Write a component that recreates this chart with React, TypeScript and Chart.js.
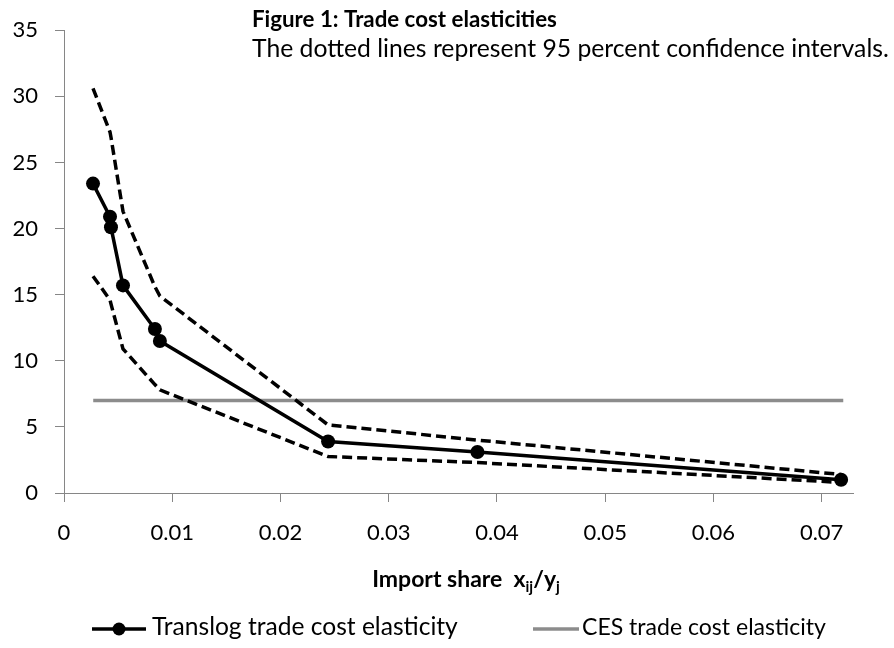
import { useEffect, useRef } from "react";
import { Chart, registerables } from "chart.js";

Chart.register(...registerables);

// ---- data ----
const importShare = [0.00268, 0.00425, 0.00434, 0.00545, 0.0084, 0.00886, 0.0244, 0.0382, 0.0718];
const translogElasticity = [23.4, 20.9, 20.1, 15.7, 12.4, 11.5, 3.9, 3.1, 1.0];
const upperBound = [30.6, 27.3, 26.9, 21.3, 15.6, 14.9, 5.15, 4.0, 1.4];
const lowerBound = [16.4, 14.6, 14.3, 10.9, 8.2, 7.8, 2.76, 2.3, 0.8];
const cesShare = [0.0027, 0.072];
const cesElasticity = [7, 7];

const xTickValues = [0, 0.01, 0.02, 0.03, 0.04, 0.05, 0.06, 0.07];
const yTickValues = [0, 5, 10, 15, 20, 25, 30, 35];

const titleText = "Figure 1: Trade cost elasticities";
const subtitleText = "The dotted lines represent 95 percent confidence intervals.";
const axisTitleMain = "Import share";
const legendLabels = ["Translog trade cost elasticity", "CES trade cost elasticity"];

const FONT = "Lato, 'Open Sans', sans-serif";
const AXIS_GRAY = "#868686";
const CES_GRAY = "#8c8c8c";

function toPoints(xs: number[], ys: number[]) {
  return xs.map((x, i) => ({ x, y: ys[i] }));
}

function fitSize(ctx: CanvasRenderingContext2D, text: string, weight: string, target: number) {
  ctx.font = `${weight} 20px ${FONT}`;
  const w = ctx.measureText(text).width;
  return (20 * target) / w;
}

const decorPlugin = {
  id: "decor",
  afterDraw(chart: any) {
    const ctx: CanvasRenderingContext2D = chart.ctx;
    ctx.save();
    ctx.fillStyle = "#000";
    ctx.textBaseline = "alphabetic";
    ctx.textAlign = "left";

    // title + subtitle
    let s = fitSize(ctx, titleText, "bold", 305);
    ctx.font = `bold ${s}px ${FONT}`;
    ctx.fillText(titleText, 252, 27);
    s = fitSize(ctx, subtitleText, "normal", 637);
    ctx.font = `normal ${s}px ${FONT}`;
    ctx.fillText(subtitleText, 252, 57);

    // axis title with subscripts
    const main = 23;
    const sub = 15;
    const pieces: [string, number, number][] = [
      [axisTitleMain + "  ", main, 0],
      ["x", main, 0],
      ["ij", sub, 5],
      ["/y", main, 0],
      ["j", sub, 5],
    ];
    let total = 0;
    for (const [t, sz] of pieces) {
      ctx.font = `bold ${sz}px ${FONT}`;
      total += ctx.measureText(t).width;
    }
    let x = 466 - total / 2;
    for (const [t, sz, dy] of pieces) {
      ctx.font = `bold ${sz}px ${FONT}`;
      ctx.fillText(t, x, 587 + dy);
      x += ctx.measureText(t).width;
    }

    // legend
    const ly = 629;
    ctx.lineWidth = 3.5;
    ctx.strokeStyle = "#000";
    ctx.beginPath();
    ctx.moveTo(92, ly);
    ctx.lineTo(146, ly);
    ctx.stroke();
    ctx.beginPath();
    ctx.arc(119, ly, 6.5, 0, Math.PI * 2);
    ctx.fill();
    s = fitSize(ctx, legendLabels[0], "normal", 306);
    ctx.font = `normal ${s}px ${FONT}`;
    ctx.fillText(legendLabels[0], 152, 635);

    ctx.lineWidth = 3.5;
    ctx.strokeStyle = CES_GRAY;
    ctx.beginPath();
    ctx.moveTo(533, ly);
    ctx.lineTo(579, ly);
    ctx.stroke();
    s = fitSize(ctx, legendLabels[1], "normal", 244);
    ctx.font = `normal ${s}px ${FONT}`;
    ctx.fillText(legendLabels[1], 582, 635);
    ctx.restore();
  },
};

export default function App() {
  const ref = useRef<HTMLCanvasElement | null>(null);

  useEffect(() => {
    if (!ref.current) return;
    const chart = new Chart(ref.current, {
      type: "line",
      data: {
        datasets: [
          {
            label: legendLabels[0],
            data: toPoints(importShare, translogElasticity),
            borderColor: "#000",
            backgroundColor: "#000",
            borderWidth: 3.5,
            pointRadius: 7,
            pointBackgroundColor: "#000",
            pointBorderWidth: 0,
            tension: 0,
          },
          {
            label: "Upper 95% CI",
            data: toPoints(importShare, upperBound),
            borderColor: "#000",
            borderWidth: 3.5,
            borderDash: [10, 5],
            pointRadius: 0,
            tension: 0,
          },
          {
            label: "Lower 95% CI",
            data: toPoints(importShare, lowerBound),
            borderColor: "#000",
            borderWidth: 3.5,
            borderDash: [10, 5],
            pointRadius: 0,
            tension: 0,
          },
          {
            label: legendLabels[1],
            data: toPoints(cesShare, cesElasticity),
            borderColor: CES_GRAY,
            borderWidth: 3.5,
            pointRadius: 0,
            tension: 0,
          },
        ],
      },
      options: {
        animation: false,
        responsive: false,
        layout: { padding: { top: 24, right: 41, left: 0, bottom: 0 } },
        plugins: {
          legend: { display: false },
          title: { display: false },
          tooltip: { enabled: false },
        },
        scales: {
          x: {
            type: "linear",
            min: 0,
            max: 0.0729,
            afterBuildTicks: (scale: any) => {
              scale.ticks = xTickValues.map((v) => ({ value: v }));
            },
            afterFit: (scale: any) => {
              scale.height = 155;
            },
            grid: {
              display: true,
              drawOnChartArea: false,
              drawTicks: true,
              tickLength: 9,
              color: AXIS_GRAY,
            },
            border: { display: true, color: AXIS_GRAY, width: 1 },
            ticks: {
              padding: 18,
              color: "#000",
              font: { family: FONT, size: 22 },
              maxRotation: 0,
              callback: (v: any) => (v === 0 ? "0" : Number(v).toFixed(2)),
            },
          },
          y: {
            type: "linear",
            min: 0,
            max: 35,
            afterBuildTicks: (scale: any) => {
              scale.ticks = yTickValues.map((v) => ({ value: v }));
            },
            afterFit: (scale: any) => {
              scale.width = 64;
            },
            grid: {
              display: true,
              drawOnChartArea: false,
              drawTicks: true,
              tickLength: 9,
              color: AXIS_GRAY,
            },
            border: { display: true, color: AXIS_GRAY, width: 1 },
            ticks: {
              padding: 17,
              color: "#000",
              font: { family: FONT, size: 22 },
              callback: (v: any) => String(v),
            },
          },
        },
      },
      plugins: [decorPlugin],
    });
    return () => chart.destroy();
  }, []);

  return (
    <div style={{ position: "absolute", left: 0, top: 0, width: 894, height: 648, background: "#fff" }}>
      <canvas ref={ref} width={894} height={648} />
    </div>
  );
}
